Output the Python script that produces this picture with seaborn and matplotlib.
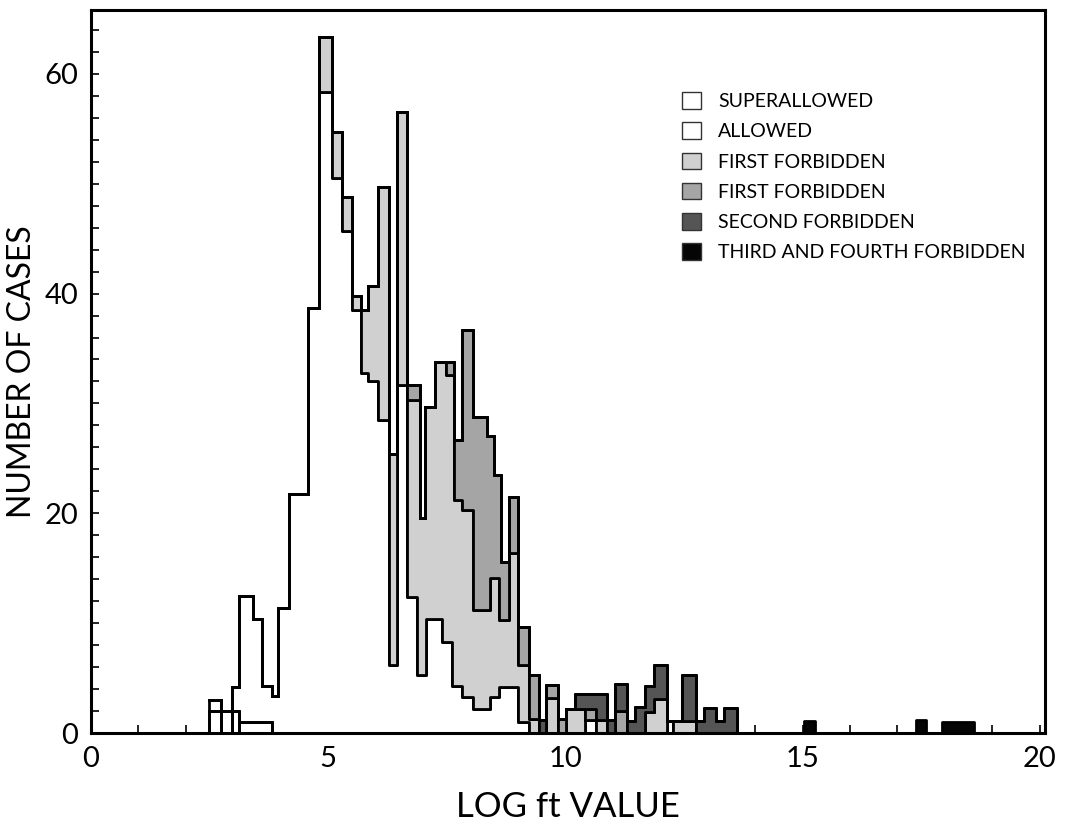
import numpy as np
import pandas as pd
import matplotlib
matplotlib.use("Agg")
import matplotlib.pyplot as plt
from matplotlib.patches import Patch
from matplotlib.ticker import MultipleLocator, FixedLocator
import seaborn as sns

# ---------------- data ----------------
# Each layer: bin edges (log ft) and the height of the stack outline at the
# top of that layer (number of cases); 0 = layer absent in that bin.
layer_names = ["superallowed", "allowed", "first forbidden",
               "first forbidden unique", "second forbidden", "third and fourth forbidden"]
legend_labels = ["SUPERALLOWED", "ALLOWED", "FIRST FORBIDDEN", "FIRST FORBIDDEN",
                 "SECOND FORBIDDEN", "THIRD AND FOURTH FORBIDDEN"]

superallowed_edges = [2.49, 2.74, 2.97, 3.12, 3.82]
superallowed_top = [2, 2, 2, 1]

allowed_edges = [2.49, 2.74, 2.97, 3.12, 3.42, 3.61, 3.82, 3.95, 4.18, 4.58, 4.80,
                 5.09, 5.30, 5.51, 5.70, 5.85, 6.05, 6.29, 6.46, 6.67, 6.87, 7.06,
                 7.41, 7.62, 7.83, 8.06, 8.41, 8.61, 9.01, 9.23, 10.42, 10.65,
                 12.14, 12.28]
allowed_top = [3, 0, 4.2, 12.5, 10.4, 4.3, 3.4, 11.4, 21.8, 38.7, 58.3,
               50.5, 45.7, 38.5, 32.8, 32, 28.5, 6.2, 31.7, 12.4, 5.3, 10.4,
               8.3, 4.3, 3.3, 2.2, 3.3, 4.2, 1.0, 0, 1.2, 0, 1.1]

first_edges = [4.80, 5.09, 5.30, 5.51, 5.70, 5.85, 6.05, 6.29, 6.46, 6.67, 6.93,
               7.04, 7.25, 7.48, 7.66, 7.83, 8.06, 8.41, 8.61, 8.82, 9.01, 9.23,
               9.44, 9.60, 9.84, 10.01, 10.42, 10.65, 10.87, 11.67, 11.87, 12.14,
               12.28, 12.76]
first_top = [63.3, 54.7, 48.8, 39.8, 38.5, 40.7, 49.7, 25.4, 56.5, 30.3,
             19.6, 29.7, 33.8, 32.6, 21.2, 20.3, 11.2, 14.1, 10.3, 16.4, 6.2,
             1.25, 0, 3.2, 0, 2.2, 0, 1.2, 0, 1.9, 3.1, 0, 1.1]

unique_edges = [6.67, 6.93, 7.48, 7.66, 7.83, 8.06, 8.34, 8.50, 8.64, 8.82, 9.01,
                9.23, 9.44, 9.60, 9.84, 10.01, 10.42, 10.65, 11.05, 11.31]
unique_top = [31.7, 0, 33.8, 26.7, 36.7, 28.8, 27.0, 23.5, 15.6, 21.5, 9.7,
              5.3, 0, 4.4, 1.3, 0, 2.2, 0, 2.0]

second_edges = [9.44, 9.60, 10.20, 10.87, 11.05, 11.31, 11.46, 11.67, 11.87,
                12.14, 12.47, 12.76, 12.92, 13.18, 13.34, 13.62]
second_top = [1.2, 0, 3.6, 1.2, 4.5, 1.1, 2.4, 4.3, 6.2, 0, 5.3, 1.1, 2.25, 1.1, 2.25]

third_edges = [15.04, 15.27, 17.40, 17.61, 17.95, 18.61]
third_top = [1.1, 0, 1.2, 0, 1.0]

x_ticks = [0, 5, 10, 15, 20]
y_ticks = [0, 20, 40, 60]

layer_colors = ["#ffffff", "#ffffff", "#d0d0d0", "#a5a5a5", "#555555", "#050505"]

# ---------------- build stacked layers on a common grid ----------------
layers = [(superallowed_edges, superallowed_top), (allowed_edges, allowed_top),
          (first_edges, first_top), (unique_edges, unique_top),
          (second_edges, second_top), (third_edges, third_top)]
grid = np.unique(np.round(np.concatenate([np.asarray(e, float) for e, _ in layers]), 3))
mids = (grid[:-1] + grid[1:]) / 2


def step_at(edges, tops, x):
    edges = np.asarray(edges, float)
    tops = np.asarray(tops, float)
    idx = np.searchsorted(edges, x, side="right") - 1
    out = np.zeros_like(x)
    ok = (idx >= 0) & (idx < len(tops))
    out[ok] = tops[idx[ok]]
    return out


cum = np.zeros_like(mids)
frames = []
for name, (e, t) in zip(layer_names, layers):
    top = step_at(e, t, mids)
    thick = np.where(top > 0, np.clip(top - cum, 0, None), 0.0)
    cum = cum + thick
    frames.append(pd.DataFrame({"logft": mids, "cases": thick, "type": name}))
df = pd.concat(frames, ignore_index=True)

# ---------------- plot ----------------
sns.set_style("ticks")
plt.rcParams["font.family"] = ["Lato", "DejaVu Sans"]
plt.rcParams["font.weight"] = "normal"
for key in ["text.color", "axes.labelcolor", "xtick.color", "ytick.color"]:
    plt.rcParams[key] = "black"

fig, ax = plt.subplots(figsize=(10.68, 8.35), dpi=100)
fig.subplots_adjust(left=0.085, right=0.978, top=0.988, bottom=0.122)

sns.histplot(data=df, x="logft", weights="cases", hue="type",
             hue_order=layer_names[::-1], bins=grid.tolist(), multiple="stack",
             element="step", fill=True, alpha=1,
             palette=dict(zip(layer_names, layer_colors)),
             edgecolor="black", linewidth=2.0, legend=False, ax=ax)

# separate outlines of the superallowed boxes
sa_mid = ((np.asarray(superallowed_edges[:-1]) + np.asarray(superallowed_edges[1:])) / 2).tolist()
sns.histplot(x=sa_mid, weights=superallowed_top, bins=superallowed_edges,
             element="bars", fill=False, color="black", linewidth=2.0, ax=ax)

ax.set_xlim(0, 20.1)
ax.set_ylim(0, 65.8)
ax.xaxis.set_major_locator(FixedLocator(x_ticks))
ax.xaxis.set_minor_locator(MultipleLocator(1))
ax.yaxis.set_major_locator(FixedLocator(y_ticks))
ax.yaxis.set_minor_locator(MultipleLocator(2))
ax.tick_params(which="both", direction="in", length=6, width=1.2,
               top=False, right=False, colors="black")
ax.tick_params(axis="both", labelsize=21, pad=9)
for s in ax.spines.values():
    s.set_linewidth(2.2)
    s.set_color("black")

ax.set_xlabel("LOG ft VALUE", fontsize=25, labelpad=14)
ax.set_ylabel("NUMBER OF CASES", fontsize=23, labelpad=5)

handles = [Patch(facecolor=c, edgecolor="#333333", linewidth=1.0) for c in layer_colors]
ax.legend(handles, legend_labels, loc="upper left", bbox_to_anchor=(0.612, 0.897),
          frameon=False, fontsize=14, handlelength=0.95, handleheight=0.95,
          labelspacing=0.62, handletextpad=0.9, borderaxespad=0)

fig.savefig("out.png", dpi=100)
